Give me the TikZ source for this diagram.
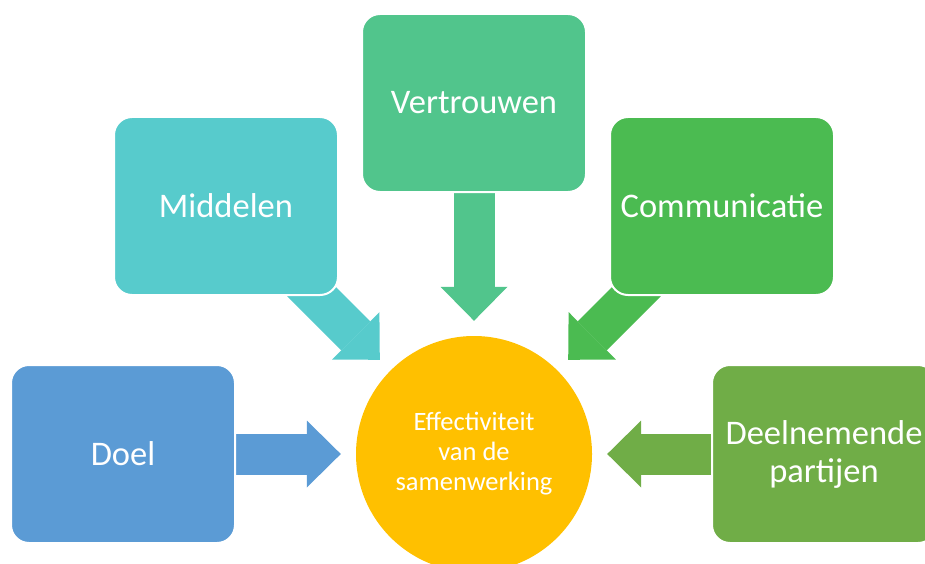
\documentclass[tikz,border=0pt]{standalone}
\usepackage{fontspec}
\setmainfont{Carlito}
\usetikzlibrary{arrows.meta,backgrounds}

\definecolor{cDoel}{HTML}{5B9BD5}
\definecolor{cMiddelen}{HTML}{57CBCC}
\definecolor{cVertrouwen}{HTML}{51C58C}
\definecolor{cCommunicatie}{HTML}{4BBB51}
\definecolor{cDeelnemers}{HTML}{70AD47}
\definecolor{cKern}{HTML}{FFC000}

\begin{document}
\begin{tikzpicture}[x=1pt,y=-1pt,
  factorbox/.style={rectangle, rounded corners=18pt, minimum width=224pt,
    minimum height=178pt, draw=white, line width=2pt, text=white,
    font=\fontsize{34.5}{38}\selectfont, align=center, inner sep=0pt},
  kern/.style={circle, fill=cKern, minimum size=236pt, inner sep=0pt,
    text=white, font=\fontsize{26.5}{30}\selectfont, align=center},
  blockarrow/.style={line width=41pt,
    -{Triangle[length=34pt,width=67pt,line width=0pt]},
    shorten >=15pt, shorten <=-20pt},
]
\clip (0,0) rectangle (925,564);

% the five factors around the centre
\node[factorbox, fill=cDoel]         (doel) at (123,454) {Doel};
\node[factorbox, fill=cMiddelen]     (middelen) at (226,206) {Middelen};
\node[factorbox, fill=cVertrouwen]   (vertrouwen) at (474,103) {Vertrouwen};
\node[factorbox, fill=cCommunicatie] (communicatie) at (722,206) {Communicatie};
\node[factorbox, fill=cDeelnemers]   (deelnemers) at (824,454) {Deelnemende\\partijen};

% centre
\node[kern] (kern) at (474,454) {Effectiviteit\\van de\\samenwerking};

% block arrows pointing at the centre, behind the boxes
\begin{scope}[on background layer]
  \draw[blockarrow, cDoel]         (doel) -- (kern);
  \draw[blockarrow, cMiddelen]     (middelen) -- (kern);
  \draw[blockarrow, cVertrouwen]   (vertrouwen) -- (kern);
  \draw[blockarrow, cCommunicatie] (communicatie) -- (kern);
  \draw[blockarrow, cDeelnemers]   (deelnemers) -- (kern);
\end{scope}
\end{tikzpicture}
\end{document}
